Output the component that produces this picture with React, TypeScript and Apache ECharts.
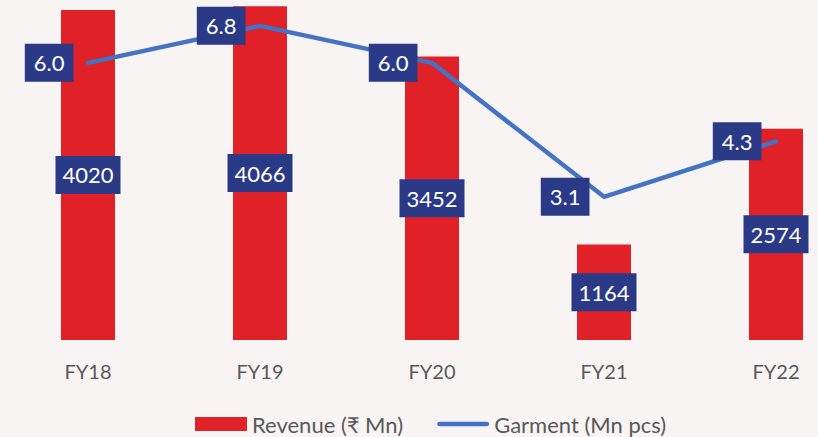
import React, { useEffect, useRef } from "react";
import * as echarts from "echarts";

const categories = ["FY18", "FY19", "FY20", "FY21", "FY22"];
const revenue = [4020, 4066, 3452, 1164, 2574];
const garment = [6.0, 6.8, 6.0, 3.1, 4.3];

const FONT = 'Lato, "Noto Sans", "DejaVu Sans", sans-serif';
const NAVY = "#2B3A87";
const RED = "#E02128";
const BLUE = "#4472C4";
const GRAY = "#595959";

export default function App() {
  const ref = useRef<HTMLDivElement>(null);
  useEffect(() => {
    if (!ref.current) return;
    const chart = echarts.init(ref.current, null, { renderer: "svg" });
    chart.setOption({
      animation: false,
      backgroundColor: "#F7F4F3",
      textStyle: { fontFamily: FONT },
      grid: { left: 2, top: 0, width: 860, height: 340, outerBoundsMode: "none", containLabel: false },
      legend: {
        left: 190,
        top: 408,
        itemGap: 34,
        itemWidth: 52,
        itemHeight: 14,
        textStyle: { color: GRAY, fontSize: 22, fontFamily: FONT },
        data: [
          { name: "Revenue (₹ Mn)", icon: "rect", itemStyle: { color: RED } },
          {
            name: "Garment (Mn pcs)",
            icon: "path://M2.5,0 L53.5,0 A2.5,2.5 0 0 1 53.5,5 L2.5,5 A2.5,2.5 0 0 1 2.5,0 Z",
            itemStyle: { color: BLUE },
          },
        ],
      },
      xAxis: {
        type: "category",
        data: categories,
        axisLine: { show: false },
        axisTick: { show: false },
        axisLabel: { color: GRAY, fontSize: 20, margin: 21, fontFamily: FONT },
      },
      yAxis: [
        { type: "value", min: 0, max: 4141, show: false, splitLine: { show: false } },
        { type: "value", min: 0, max: 7.36, show: false, splitLine: { show: false } },
      ],
      series: [
        {
          name: "Revenue (₹ Mn)",
          type: "bar",
          data: revenue,
          barWidth: 54,
          itemStyle: { color: RED },
          label: {
            show: true,
            position: "inside",
            color: "#fff",
            fontSize: 22,
            fontFamily: FONT,
            backgroundColor: NAVY,
            width: 65,
            height: 38,
            lineHeight: 38,
            align: "center",
            verticalAlign: "middle",
          },
          z: 2,
        },
        {
          name: "Garment (Mn pcs)",
          type: "line",
          yAxisIndex: 1,
          data: garment,
          symbol: "circle",
          symbolSize: 1,
          showSymbol: true,
          itemStyle: { color: BLUE },
          lineStyle: { color: BLUE, width: 4.5, cap: "round", join: "round" },
          label: {
            show: true,
            position: "left",
            distance: 14,
            color: "#fff",
            fontSize: 22,
            fontFamily: FONT,
            backgroundColor: NAVY,
            lineHeight: 38,
            padding: [0, 9],
            formatter: (p: any) => Number(p.value).toFixed(1),
          },
          z: 3,
        },
      ],
    });
    return () => chart.dispose();
  }, []);
  return (
    <div
      ref={ref}
      style={{ position: "fixed", left: 0, top: 0, width: 818, height: 437 }}
    />
  );
}
